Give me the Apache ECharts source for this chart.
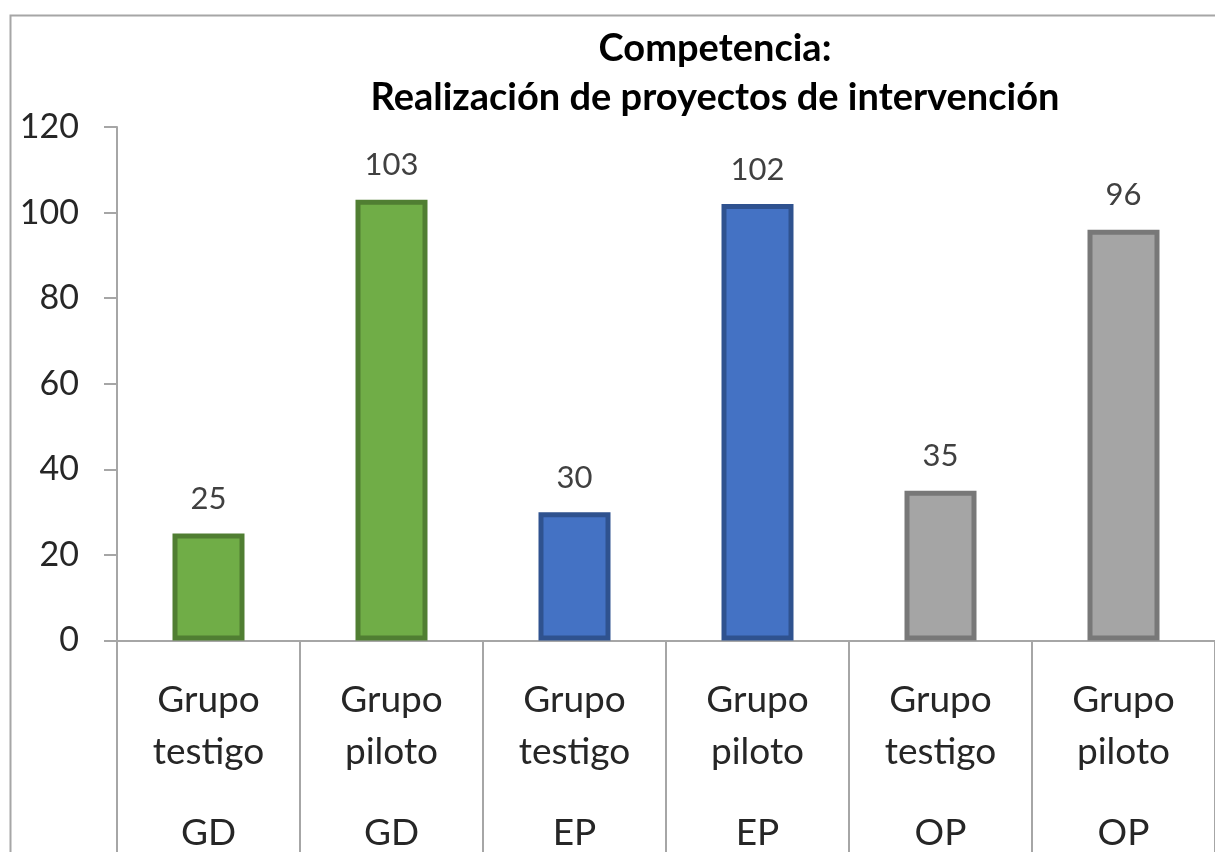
<!DOCTYPE html>
<html>
<head>
<meta charset="utf-8">
<script src="https://cdn.jsdelivr.net/npm/echarts@6/dist/echarts.min.js"></script>
<style>
html,body{margin:0;padding:0;background:#fff;}
#chart{width:1215px;height:852px;}
</style>
</head>
<body>
<div id="chart"></div>
<script>
const titleLines = ['Competencia:', 'Realización de proyectos de intervención'];
const groups = ['Grupo testigo', 'Grupo piloto', 'Grupo testigo', 'Grupo piloto', 'Grupo testigo', 'Grupo piloto'];
const competencies = ['GD', 'GD', 'EP', 'EP', 'OP', 'OP'];
const values = [25, 103, 30, 102, 35, 96];
const yTicks = [0, 20, 40, 60, 80, 100, 120];

const palette = {
  GD: { fill: '#70AD47', border: '#507E32' },
  EP: { fill: '#4472C4', border: '#2F528F' },
  OP: { fill: '#A5A5A5', border: '#787878' }
};

const FONT = 'Lato, "Open Sans", sans-serif';
const categories = groups.map((g, i) => g + '|' + competencies[i]);

const chart = echarts.init(document.getElementById('chart'), null, { renderer: 'canvas' });
chart.setOption({
  backgroundColor: '#fff',
  animation: false,
  graphic: [{
    type: 'rect',
    shape: { x: 10.5, y: 15.5, width: 1400, height: 1000 },
    style: { fill: 'none', stroke: '#A6A6A6', lineWidth: 2 },
    silent: true
  }],
  title: {
    text: titleLines.join('\n'),
    left: 710,
    top: 19,
    textAlign: 'center',
    textStyle: { fontFamily: FONT, fontWeight: 'bold', fontSize: 38, lineHeight: 49, color: '#000' }
  },
  grid: { left: 117, right: -17, top: 127, bottom: 852 - 648 },
  xAxis: {
    type: 'category',
    data: categories,
    axisLine: { lineStyle: { color: '#A6A6A6', width: 2 } },
    axisTick: { show: true, length: 260, lineStyle: { color: '#A6A6A6', width: 2 } },
    axisLabel: {
      margin: 34,
      interval: 0,
      formatter: function (v) {
        const p = v.split('|');
        const w = p[0].split(' ');
        return '{a|' + w[0] + '}\n{a|' + w[1] + '}\n{b|' + p[1] + '}';
      },
      rich: {
        a: { fontFamily: FONT, fontSize: 37, lineHeight: 52, color: '#262626' },
        b: { fontFamily: FONT, fontSize: 37, lineHeight: 110, color: '#262626' }
      }
    }
  },
  yAxis: {
    type: 'value',
    min: yTicks[0],
    max: yTicks[yTicks.length - 1],
    interval: yTicks[1] - yTicks[0],
    splitLine: { show: false },
    axisLine: { show: true, lineStyle: { color: '#A6A6A6', width: 2 } },
    axisTick: { show: true, length: 13, lineStyle: { color: '#A6A6A6', width: 2 } },
    axisLabel: { margin: 38, fontFamily: FONT, fontSize: 34, color: '#262626' }
  },
  series: [{
    type: 'bar',
    barWidth: 72,
    data: values.map((v, i) => ({
      value: v,
      itemStyle: {
        color: palette[competencies[i]].fill,
        borderColor: palette[competencies[i]].border,
        borderWidth: 5
      }
    })),
    label: {
      show: true,
      position: 'top',
      distance: 19,
      fontFamily: FONT,
      fontSize: 31,
      color: '#404040'
    }
  }]
});
</script>
</body>
</html>
